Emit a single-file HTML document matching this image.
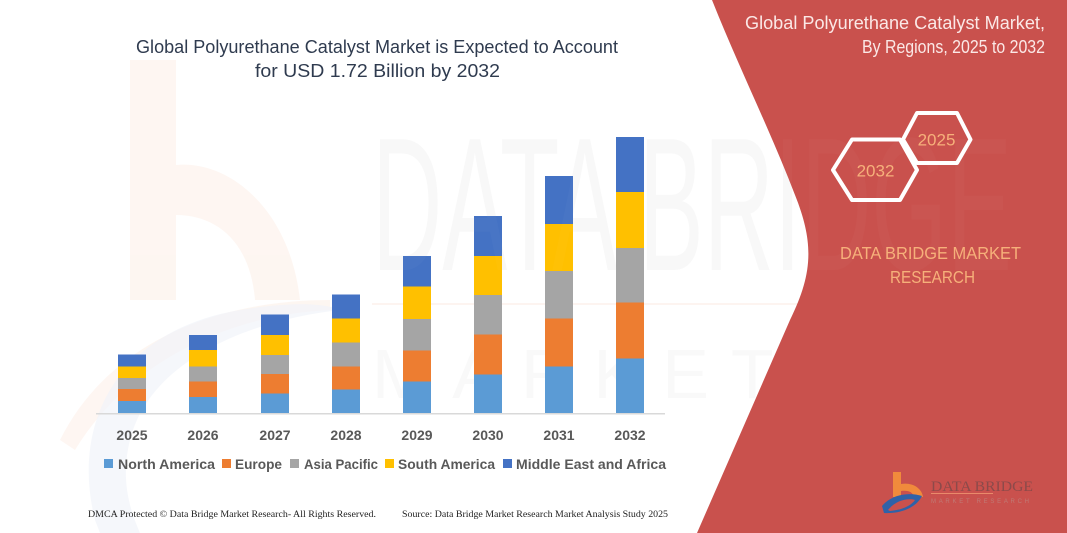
<!DOCTYPE html>
<html>
<head>
<meta charset="utf-8">
<style>
  html,body{margin:0;padding:0;background:#fff;}
  svg{display:block;}
  text{font-family:"Liberation Sans",sans-serif;}
</style>
</head>
<body>
<svg width="1067" height="533" viewBox="0 0 1067 533" xmlns="http://www.w3.org/2000/svg">
  <rect width="1067" height="533" fill="#ffffff"/>

  <!-- faint watermark: orange b -->
  <g opacity="0.35">
    <path d="M130,60 L176,60 L176,165 C230,160 290,210 300,300 L255,300 C250,240 215,215 176,215 L176,300 L130,300 Z" fill="#FCE6DA"/>
    <path d="M60,440 C110,340 220,300 330,300 L330,310 C230,315 130,360 75,450 Z" fill="#FCE6DA"/>
  </g>
  <!-- faint watermark: blue swoosh -->
  <path d="M95,520 C70,420 120,330 240,310 C300,300 330,305 340,310 C250,320 150,360 130,440 C120,480 130,510 140,533 L100,533 Z" fill="#F1F4F9" opacity="0.7"/>
  <!-- faint watermark letters -->
  <text x="372" y="270" font-size="190" fill="#F8F8F8" textLength="640" lengthAdjust="spacingAndGlyphs">DATA BRIDGE</text>
  <rect x="372" y="303" width="600" height="2" fill="#FDF4F0"/>
  <text x="372" y="398" font-size="70" fill="#F9F9F9" letter-spacing="22">MARKET RESEARCH</text>

  <!-- main title -->
  <text x="377" y="53" font-size="18.5" fill="#2F3B4F" text-anchor="middle" textLength="482" lengthAdjust="spacingAndGlyphs">Global Polyurethane Catalyst Market is Expected to Account</text>
  <text x="377.5" y="77" font-size="18.5" fill="#2F3B4F" text-anchor="middle" textLength="245" lengthAdjust="spacingAndGlyphs">for USD 1.72 Billion by 2032</text>

  <!-- baseline -->
  <rect x="96" y="413" width="569" height="1.5" fill="#D9D9D9"/>

  <!-- bars -->
  <g shape-rendering="crispEdges">
    <rect x="118" y="401" width="28" height="12" fill="#5B9BD5"/>
    <rect x="118" y="389" width="28" height="12" fill="#ED7D31"/>
    <rect x="118" y="378" width="28" height="11" fill="#A5A5A5"/>
    <rect x="118" y="366.5" width="28" height="11.5" fill="#FFC000"/>
    <rect x="118" y="354.5" width="28" height="12" fill="#4472C4"/>
    <rect x="189" y="397" width="28" height="16" fill="#5B9BD5"/>
    <rect x="189" y="381.5" width="28" height="15.5" fill="#ED7D31"/>
    <rect x="189" y="366.5" width="28" height="15" fill="#A5A5A5"/>
    <rect x="189" y="350" width="28" height="16.5" fill="#FFC000"/>
    <rect x="189" y="335" width="28" height="15" fill="#4472C4"/>
    <rect x="261" y="393.5" width="28" height="19.5" fill="#5B9BD5"/>
    <rect x="261" y="374" width="28" height="19.5" fill="#ED7D31"/>
    <rect x="261" y="355" width="28" height="19" fill="#A5A5A5"/>
    <rect x="261" y="335" width="28" height="20" fill="#FFC000"/>
    <rect x="261" y="314.5" width="28" height="20.5" fill="#4472C4"/>
    <rect x="332" y="389.5" width="28" height="23.5" fill="#5B9BD5"/>
    <rect x="332" y="366.5" width="28" height="23" fill="#ED7D31"/>
    <rect x="332" y="342.5" width="28" height="24" fill="#A5A5A5"/>
    <rect x="332" y="318.5" width="28" height="24" fill="#FFC000"/>
    <rect x="332" y="294.5" width="28" height="24" fill="#4472C4"/>
    <rect x="403" y="381.5" width="28" height="31.5" fill="#5B9BD5"/>
    <rect x="403" y="350.5" width="28" height="31" fill="#ED7D31"/>
    <rect x="403" y="319" width="28" height="31.5" fill="#A5A5A5"/>
    <rect x="403" y="286.5" width="28" height="32.5" fill="#FFC000"/>
    <rect x="403" y="256" width="28" height="30.5" fill="#4472C4"/>
    <rect x="474" y="374.5" width="28" height="38.5" fill="#5B9BD5"/>
    <rect x="474" y="334.5" width="28" height="40" fill="#ED7D31"/>
    <rect x="474" y="295" width="28" height="39.5" fill="#A5A5A5"/>
    <rect x="474" y="256" width="28" height="39" fill="#FFC000"/>
    <rect x="474" y="216" width="28" height="40" fill="#4472C4"/>
    <rect x="545" y="366.5" width="28" height="46.5" fill="#5B9BD5"/>
    <rect x="545" y="318.5" width="28" height="48" fill="#ED7D31"/>
    <rect x="545" y="271" width="28" height="47.5" fill="#A5A5A5"/>
    <rect x="545" y="224" width="28" height="47" fill="#FFC000"/>
    <rect x="545" y="176" width="28" height="48" fill="#4472C4"/>
    <rect x="616" y="358.5" width="28" height="54.5" fill="#5B9BD5"/>
    <rect x="616" y="302.5" width="28" height="56" fill="#ED7D31"/>
    <rect x="616" y="248" width="28" height="54.5" fill="#A5A5A5"/>
    <rect x="616" y="192" width="28" height="56" fill="#FFC000"/>
    <rect x="616" y="137" width="28" height="55" fill="#4472C4"/>
  </g>

  <!-- year labels -->
  <g font-size="14" font-weight="bold" fill="#595959" text-anchor="middle">
    <text x="132" y="440">2025</text>
    <text x="203" y="440">2026</text>
    <text x="275" y="440">2027</text>
    <text x="346" y="440">2028</text>
    <text x="417" y="440">2029</text>
    <text x="488" y="440">2030</text>
    <text x="559" y="440">2031</text>
    <text x="630" y="440">2032</text>
  </g>

  <!-- legend -->
  <g font-size="14" font-weight="bold" fill="#595959">
    <rect x="104" y="459" width="9" height="9" fill="#5B9BD5"/>
    <text x="118" y="469" textLength="97" lengthAdjust="spacingAndGlyphs">North America</text>
    <rect x="222" y="459" width="9" height="9" fill="#ED7D31"/>
    <text x="235" y="469" textLength="47" lengthAdjust="spacingAndGlyphs">Europe</text>
    <rect x="290" y="459" width="9" height="9" fill="#A5A5A5"/>
    <text x="304" y="469" textLength="74" lengthAdjust="spacingAndGlyphs">Asia Pacific</text>
    <rect x="385" y="459" width="9" height="9" fill="#FFC000"/>
    <text x="398" y="469" textLength="97" lengthAdjust="spacingAndGlyphs">South America</text>
    <rect x="503" y="459" width="9" height="9" fill="#4472C4"/>
    <text x="516" y="469" textLength="150" lengthAdjust="spacingAndGlyphs">Middle East and Africa</text>
  </g>

  <!-- footer -->
  <g font-size="9.5" fill="#222">
    <text x="88" y="517" style="font-family:'Liberation Serif',serif" textLength="288" lengthAdjust="spacingAndGlyphs">DMCA Protected © Data Bridge Market Research-  All Rights Reserved.</text>
    <text x="402" y="517" style="font-family:'Liberation Serif',serif" textLength="266" lengthAdjust="spacingAndGlyphs">Source: Data Bridge Market Research  Market Analysis Study 2025</text>
  </g>

  <!-- red panel -->
  <path d="M712,0 L1067,0 L1067,533 L697,533 L790,320 C812,275 815,245 795,195 C770,130 740,70 712,0 Z" fill="#C9514D"/>
  <text x="372" y="270" font-size="190" fill="#ffffff" opacity="0.02" textLength="640" lengthAdjust="spacingAndGlyphs">DATA BRIDGE</text>

  <!-- panel title -->
  <text x="1045" y="29" font-size="18" fill="#FBE8E6" text-anchor="end" textLength="300" lengthAdjust="spacingAndGlyphs">Global Polyurethane Catalyst Market,</text>
  <text x="1045" y="53" font-size="18" fill="#FBE8E6" text-anchor="end" textLength="183" lengthAdjust="spacingAndGlyphs">By Regions, 2025 to 2032</text>

  <!-- hexagons -->
  <polygon points="833,170 852,139.5 900,139.5 917,170 900,200 852,200" fill="none" stroke="#ffffff" stroke-width="4" stroke-linejoin="round"/>
  <polygon points="903,139.5 917,113 957,113 970.5,139.5 957,163 917,163" fill="none" stroke="#ffffff" stroke-width="4" stroke-linejoin="round"/>
  <text x="875.5" y="176.5" font-size="17" fill="#F6B07A" text-anchor="middle">2032</text>
  <text x="936.5" y="145.5" font-size="17" fill="#F6B07A" text-anchor="middle">2025</text>

  <!-- DBMR text -->
  <text x="930.5" y="259" font-size="17.5" fill="#F6B07A" text-anchor="middle" textLength="181" lengthAdjust="spacingAndGlyphs">DATA BRIDGE MARKET</text>
  <text x="932.5" y="283" font-size="17.5" fill="#F6B07A" text-anchor="middle" textLength="85" lengthAdjust="spacingAndGlyphs">RESEARCH</text>

  <!-- bottom-right logo -->
  <g>
    <path d="M893,472 L901,472 L901,484 C912,482 922,488 923,497 L914,497 C913,492 908,490 901,491 L901,497 L893,497 Z" fill="#F08A3C"/>
    <path d="M882,506 C892,494 910,492 922,496 C916,508 900,514 884,513 Z" fill="#2F62A8"/>
    <path d="M888,510 C896,500 908,498 915,500 C910,507 900,510 890,511 Z" fill="#C9514D"/>
    <text x="931" y="491" font-size="15" fill="#8C4A4A" style="font-family:'Liberation Serif',serif" textLength="102" lengthAdjust="spacingAndGlyphs">DATA BRIDGE</text>
    <rect x="931" y="493" width="62" height="1" fill="#E98A6A"/>
    <text x="931" y="503" font-size="6" fill="#C07A75" textLength="100" lengthAdjust="spacing" letter-spacing="2">MARKET RESEARCH</text>
  </g>
</svg>
</body>
</html>
